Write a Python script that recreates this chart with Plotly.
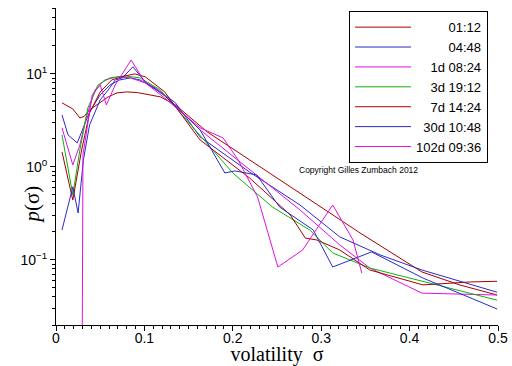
import plotly.graph_objects as go

# ---------------- data ----------------
series_names = ["01:12", "04:48", "1d 08:24", "3d 19:12", "7d 14:24", "30d 10:48", "102d 09:36"]
series_colors = ["#a80000", "#2a2ac8", "#e010e0", "#10b010", "#a80000", "#2a2ac8", "#e010e0"]

vol_0112 = [0.0068, 0.019, 0.027, 0.032, 0.038, 0.050, 0.059, 0.069, 0.080, 0.092, 0.106, 0.118, 0.135,
            0.171, 0.219, 0.276, 0.344, 0.414, 0.457, 0.499]
p_0112 = [4.88, 4.2, 3.36, 3.5, 4.1, 4.9, 5.66, 6.25, 6.4, 6.3, 5.95, 5.66, 4.64,
          2.38, 1.19, 0.525, 0.195, 0.0743, 0.0538, 0.042]

vol_0448 = [0.0068, 0.0136, 0.024, 0.031, 0.038, 0.050, 0.061, 0.072, 0.084, 0.095, 0.112, 0.135,
            0.163, 0.219, 0.276, 0.321, 0.367, 0.414, 0.499]
p_0448 = [3.62, 2.21, 1.81, 2.69, 3.9, 5.95, 7.6, 8.6, 9.06, 8.6, 7.07, 4.9,
          2.1, 0.88, 0.39, 0.177, 0.113, 0.078, 0.045]

vol_1d = [0.0068, 0.019, 0.027, 0.034, 0.044, 0.055, 0.070, 0.084, 0.101, 0.123,
          0.163, 0.219, 0.276, 0.321, 0.355, 0.414, 0.499]
p_1d = [2.63, 1.05, 1.72, 3.36, 6.7, 8.6, 9.3, 9.06, 8.0, 5.95,
        2.5, 0.93, 0.345, 0.145, 0.082, 0.044, 0.042]

vol_3d = [0.0068, 0.019, 0.027, 0.036, 0.0475, 0.061, 0.078, 0.095, 0.118,
          0.163, 0.200, 0.245, 0.287, 0.313, 0.340, 0.355, 0.499]
p_3d = [2.21, 0.5, 1.52, 4.3, 7.6, 9.06, 9.5, 9.06, 6.73,
        2.21, 0.86, 0.37, 0.21, 0.119, 0.093, 0.082, 0.037]

vol_7d = [0.0068, 0.019, 0.029, 0.038, 0.050, 0.063, 0.078, 0.089, 0.101, 0.123,
          0.163, 0.219, 0.265, 0.282, 0.295, 0.321, 0.355, 0.415, 0.468, 0.499]
p_7d = [1.45, 0.44, 1.52, 3.8, 6.4, 8.6, 9.5, 10.0, 9.3, 6.4,
        1.95, 0.76, 0.305, 0.172, 0.164, 0.128, 0.078, 0.054, 0.058, 0.059]

vol_30d = [0.0068, 0.019, 0.025, 0.031, 0.038, 0.050, 0.059, 0.067, 0.075, 0.087, 0.101, 0.123,
           0.163, 0.191, 0.2025, 0.227, 0.253, 0.291, 0.313, 0.357, 0.415, 0.499]
p_30d = [0.21, 0.61, 0.32, 1.19, 2.83, 5.25, 6.7, 8.6, 9.06, 11.9, 8.2, 5.8,
         2.5, 0.86, 0.906, 0.82, 0.37, 0.21, 0.084, 0.122, 0.064, 0.0297]

vol_102d = [0.0288, 0.0305, 0.041, 0.050, 0.057, 0.067, 0.085, 0.101, 0.123,
            0.163, 0.189, 0.206, 0.228, 0.251, 0.279, 0.313, 0.336, 0.346]
p_102d = [0.0001, 1.35, 5.95, 7.6, 4.64, 7.6, 14.1, 8.0, 5.5,
          2.63, 2.05, 1.19, 0.475, 0.084, 0.128, 0.39, 0.164, 0.072]

x_tick_vals = [0, 0.1, 0.2, 0.3, 0.4, 0.5]
x_tick_text = ["0", "0.1", "0.2", "0.3", "0.4", "0.5"]
y_tick_vals = [0.1, 1, 10]
y_tick_text = ["10<sup>\u22121</sup>", "10<sup>0</sup>", "10<sup>1</sup>"]

vols = [vol_0112, vol_0448, vol_1d, vol_3d, vol_7d, vol_30d, vol_102d]
probs = [p_0112, p_0448, p_1d, p_3d, p_7d, p_30d, p_102d]

# ---------------- figure ----------------
def text_units(name):
    # digits/letters ~2 units, ':' and ' ' ~1 unit (Arial metrics)
    return sum(2 if c.isalnum() else 1 for c in name)

max_units = max(text_units(n) for n in series_names)

def pad_name(name):
    # right-align legend labels like the reference
    return "\u00a0" * (max_units - text_units(name)) + name

fig = go.Figure()
for name, col, xs, ys in zip(series_names, series_colors, vols, probs):
    fig.add_trace(go.Scatter(
        x=xs, y=ys, mode="lines", name=pad_name(name),
        line=dict(color=col, width=1),
    ))

minor_y = [m * 10 ** e for e in (-2, -1, 0, 1) for m in range(2, 10) if m * 10 ** e <= 50]

fig.update_layout(
    width=512, height=366,
    margin=dict(l=56, r=14, t=8, b=41),
    paper_bgcolor="white", plot_bgcolor="white",
    font=dict(family="Liberation Sans, Arial, sans-serif", size=14, color="black"),
    showlegend=True,
    legend=dict(
        x=0.663, y=0.99, xanchor="left", yanchor="top",
        bgcolor="white", bordercolor="black", borderwidth=1,
        font=dict(family="Liberation Sans, Arial, sans-serif", size=13, color="black"),
        itemwidth=56,
    ),
    xaxis=dict(
        range=[0, 0.5], showgrid=False, zeroline=False,
        showline=True, linecolor="black", linewidth=1,
        tickmode="array", tickvals=x_tick_vals, ticktext=x_tick_text,
        ticks="outside", ticklen=5, tickcolor="black", ticklabelstandoff=-5,
        minor=dict(dtick=0.01, ticks="outside", ticklen=3, tickcolor="black", showgrid=False),
        title=dict(text="volatility\u00a0\u00a0\u03c3",
                   font=dict(family="Liberation Serif, Times New Roman, serif", size=20),
                   standoff=9),
        automargin=False,
    ),
    yaxis=dict(
        type="log", range=[-1.699, 1.708], showgrid=False, zeroline=False,
        showline=True, linecolor="black", linewidth=1,
        tickmode="array", tickvals=y_tick_vals, ticktext=y_tick_text,
        ticks="outside", ticklen=5, tickcolor="black",
        minor=dict(tickmode="array", tickvals=minor_y, ticks="outside", ticklen=3,
                   tickcolor="black", showgrid=False),
        automargin=False,
    ),
    annotations=[
        dict(text="<i>p</i>(\u03c3)", xref="paper", yref="paper", x=-0.086, y=0.38,
             textangle=-90, showarrow=False,
             font=dict(family="Liberation Serif, Times New Roman, serif", size=21, color="black")),
        dict(text="Copyright Gilles Zumbach 2012", xref="paper", yref="paper",
             x=0.824, y=0.49, showarrow=False,
             font=dict(family="Liberation Sans, Arial, sans-serif", size=8.5, color="black")),
    ],
)

fig.write_html(
    "out.html",
    config={"displayModeBar": False},
    post_script="document.body.style.margin='0';document.body.style.padding='0';",
)
